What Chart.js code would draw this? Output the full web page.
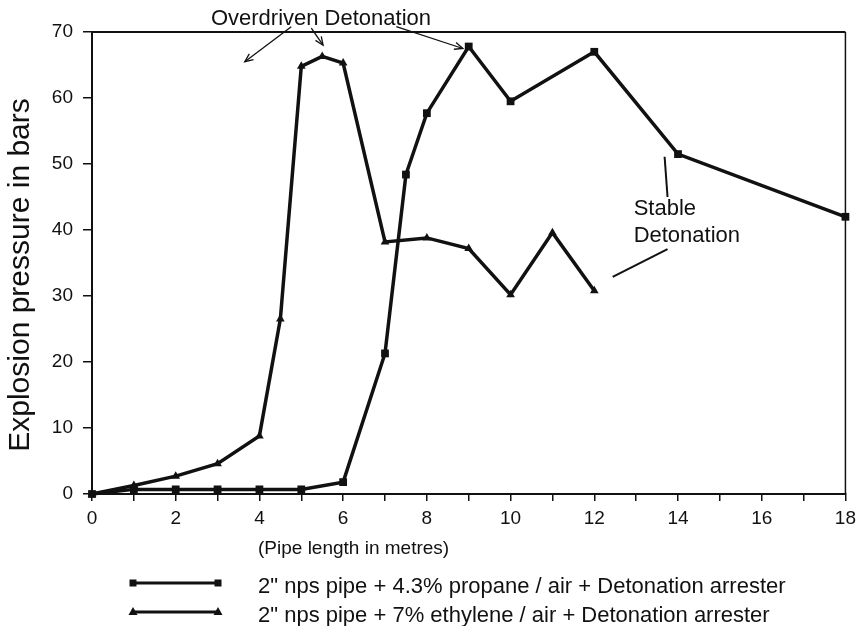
<!DOCTYPE html>
<html>
<head>
<meta charset="utf-8">
<script src="https://cdn.jsdelivr.net/npm/chart.js@4.4.1/dist/chart.umd.min.js"></script>
<style>
  html, body { margin: 0; padding: 0; background: #fff; }
</style>
</head>
<body>
<canvas id="chart" width="862" height="626"></canvas>
<script>
// propane series (squares)
const propaneX = [0, 1, 2, 3, 4, 5, 6, 7, 7.5, 8, 9, 10, 12, 14, 18];
const propaneY = [0, 0.7, 0.7, 0.7, 0.7, 0.7, 1.8, 21.3, 48.4, 57.7, 67.8, 59.5, 67.0, 51.5, 42.0];

// ethylene series (triangles)
const ethyleneX = [0, 1, 2, 3, 4, 4.5, 5, 5.5, 6, 7, 8, 9, 10, 11, 12];
const ethyleneY = [0, 1.3, 2.7, 4.6, 8.8, 26.5, 64.8, 66.3, 65.3, 38.2, 38.8, 37.2, 30.2, 39.6, 30.8];

const seriesLabels = [
  '2" nps pipe + 4.3% propane / air + Detonation arrester',
  '2" nps pipe + 7% ethylene / air + Detonation arrester',
];

const xTicks = [0, 2, 4, 6, 8, 10, 12, 14, 16, 18];
const yTicks = [0, 10, 20, 30, 40, 50, 60, 70];
const xTitle = "(Pipe length in metres)";
const yTitle = "Explosion pressure in bars";

const FONT = '"Liberation Sans", Arial, sans-serif';
const INK = '#111';

function toPoints(xs, ys) {
  return xs.map((x, i) => ({ x, y: ys[i] }));
}

// arrows / lines for the notes, in data units
const overdrivenArrows = [
  [4.76, 70.8, 3.65, 65.5],
  [5.24, 70.6, 5.52, 68.0],
  [7.27, 70.8, 8.86, 67.5],
];
const stableLines = [
  [13.68, 51.1, 13.75, 45.0],
  [13.75, 37.1, 12.44, 32.9],
];

const framePlugin = {
  id: "frame",
  afterDraw(chart) {
    const { ctx, chartArea: a } = chart;
    ctx.save();
    ctx.strokeStyle = INK;
    ctx.lineWidth = 2;
    ctx.beginPath();
    ctx.moveTo(a.left, a.top);
    ctx.lineTo(a.right, a.top);
    ctx.stroke();
    ctx.lineWidth = 1.5;
    ctx.beginPath();
    ctx.moveTo(a.right, a.top);
    ctx.lineTo(a.right, a.bottom);
    ctx.stroke();
    ctx.restore();
  },
};

function arrow(ctx, x1, y1, x2, y2, head) {
  ctx.beginPath();
  ctx.moveTo(x1, y1);
  ctx.lineTo(x2, y2);
  ctx.stroke();
  if (!head) return;
  const ang = Math.atan2(y2 - y1, x2 - x1);
  ctx.beginPath();
  ctx.moveTo(x2 - 9 * Math.cos(ang - 0.4), y2 - 9 * Math.sin(ang - 0.4));
  ctx.lineTo(x2, y2);
  ctx.lineTo(x2 - 9 * Math.cos(ang + 0.4), y2 - 9 * Math.sin(ang + 0.4));
  ctx.stroke();
}

const notesPlugin = {
  id: "notes",
  afterDraw(chart) {
    const { ctx } = chart;
    const sx = chart.scales.x;
    const sy = chart.scales.y;
    const px = (v) => sx.getPixelForValue(v);
    const py = (v) => sy.getPixelForValue(v);
    ctx.save();
    ctx.fillStyle = INK;
    ctx.strokeStyle = INK;
    ctx.font = "22px " + FONT;
    ctx.textBaseline = "alphabetic";

    ctx.textAlign = "center";
    ctx.fillText("Overdriven Detonation", px(5.47), py(71.05));
    ctx.lineWidth = 1.3;
    overdrivenArrows.forEach((a) => arrow(ctx, px(a[0]), py(a[1]), px(a[2]), py(a[3]), true));

    ctx.textAlign = "left";
    ctx.fillText("Stable", px(12.94), py(42.3));
    ctx.fillText("Detonation", px(12.94), py(38.2));
    ctx.lineWidth = 2;
    stableLines.forEach((a) => arrow(ctx, px(a[0]), py(a[1]), px(a[2]), py(a[3]), false));

    // axis titles
    ctx.font = "19px " + FONT;
    ctx.textAlign = "left";
    ctx.fillText(xTitle, 258, 554);

    ctx.translate(29, 275);
    ctx.rotate(-Math.PI / 2);
    ctx.font = "30px " + FONT;
    ctx.textAlign = "center";
    ctx.fillText(yTitle, 0, 0);
    ctx.restore();
  },
};

function marker(ctx, style, x, y) {
  ctx.beginPath();
  if (style === "rect") {
    ctx.rect(x - 3.5, y - 3.5, 7, 7);
  } else {
    ctx.moveTo(x, y - 5);
    ctx.lineTo(x + 4.5, y + 3);
    ctx.lineTo(x - 4.5, y + 3);
    ctx.closePath();
  }
  ctx.fill();
}

const legendPlugin = {
  id: "lineLegend",
  afterDraw(chart) {
    const { ctx } = chart;
    const rows = [583, 612];
    ctx.save();
    chart.data.datasets.forEach((ds, i) => {
      const y = rows[i];
      ctx.strokeStyle = ds.borderColor;
      ctx.fillStyle = ds.borderColor;
      ctx.lineWidth = 3;
      ctx.beginPath();
      ctx.moveTo(131, y);
      ctx.lineTo(220, y);
      ctx.stroke();
      marker(ctx, ds.pointStyle, 133, y);
      marker(ctx, ds.pointStyle, 218, y);
      ctx.font = "22px " + FONT;
      ctx.textBaseline = "alphabetic";
      ctx.textAlign = "left";
      ctx.fillText(ds.label, 258, y + 10);
    });
    ctx.restore();
  },
};

new Chart(document.getElementById("chart"), {
  type: "line",
  data: {
    datasets: [
      {
        label: seriesLabels[0],
        data: toPoints(propaneX, propaneY),
        borderColor: INK,
        backgroundColor: INK,
        borderWidth: 3.5,
        pointStyle: "rect",
        pointRadius: 5.5,
        pointBorderWidth: 0,
        tension: 0,
      },
      {
        label: seriesLabels[1],
        data: toPoints(ethyleneX, ethyleneY),
        borderColor: INK,
        backgroundColor: INK,
        borderWidth: 3.5,
        pointStyle: "triangle",
        pointRadius: 5,
        pointBorderWidth: 0,
        tension: 0,
      },
    ],
  },
  options: {
    responsive: false,
    animation: false,
    devicePixelRatio: 1,
    clip: false,
    layout: { padding: { top: 32, right: 16, left: 0, bottom: 0 } },
    plugins: {
      legend: { display: false },
      tooltip: { enabled: false },
    },
    scales: {
      x: {
        type: "linear",
        min: 0,
        max: 18,
        afterFit: (s) => { s.height = 132; },
        ticks: {
          stepSize: 1,
          autoSkip: false,
          maxRotation: 0,
          padding: 6,
          color: INK,
          font: { family: FONT, size: 19 },
          callback: (v) => (xTicks.includes(v) ? String(v) : ""),
        },
        grid: { drawOnChartArea: false, tickLength: 7, color: INK, lineWidth: 1.5 },
        border: { display: true, color: INK, width: 2 },
      },
      y: {
        type: "linear",
        min: 0,
        max: 70,
        afterFit: (s) => { s.width = 92; },
        ticks: {
          stepSize: 10,
          padding: 10,
          color: INK,
          font: { family: FONT, size: 19 },
          callback: (v) => (yTicks.includes(v) ? String(v) : ""),
        },
        grid: { drawOnChartArea: false, tickLength: 9, color: INK, lineWidth: 1.5 },
        border: { display: true, color: INK, width: 2 },
      },
    },
  },
  plugins: [framePlugin, notesPlugin, legendPlugin],
});
</script>
</body>
</html>
